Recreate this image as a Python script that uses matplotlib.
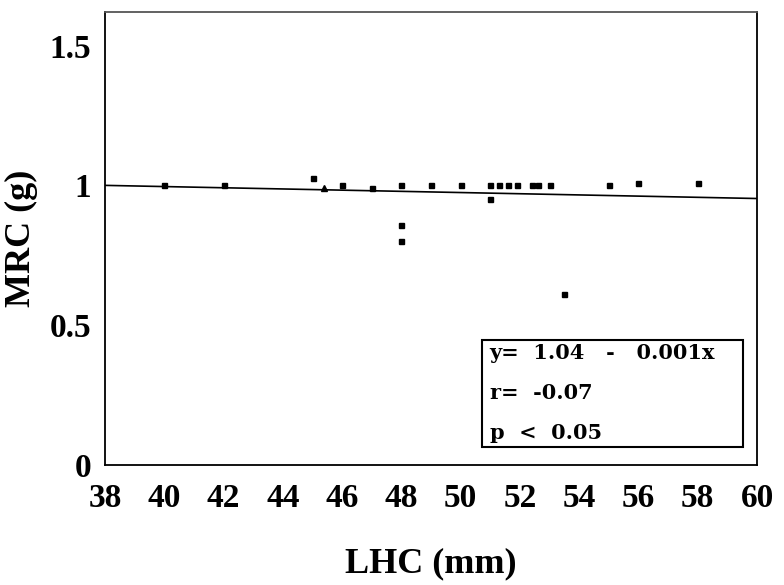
import matplotlib
matplotlib.use("Agg")
import matplotlib.pyplot as plt

# Data
lhc = [40, 42, 45, 46, 47, 48, 48, 48, 49, 50, 51, 51, 51.3, 51.6, 51.9, 52.4, 52.6, 53, 53.5, 55, 56, 58]
mrc = [1.0, 1.0, 1.025, 1.0, 0.99, 1.0, 0.86, 0.80, 1.0, 1.0, 1.0, 0.95, 1.0, 1.0, 1.0, 1.0, 1.0, 1.0, 0.61, 1.0, 1.01, 1.01]
tri_x = [45.4]
tri_y = [0.99]
fit_x = [38, 60]
fit_y = [1.0, 0.953]
xticks = [38, 40, 42, 44, 46, 48, 50, 52, 54, 56, 58, 60]
yticks = [0, 0.5, 1, 1.5]
ytick_labels = ["0", "0.5", "1", "1.5"]
stats_lines = ["y=  1.04   -   0.001x", "r=  -0.07", "p  <  0.05"]

plt.rcParams['font.family'] = ['Liberation Serif', 'DejaVu Serif']

fig = plt.figure(figsize=(7.84, 5.85), dpi=100)
ax = fig.add_axes([0.134, 0.2051, 0.8316, 0.7744])

ax.plot(fit_x, fit_y, color='black', linewidth=1.2)
ax.plot(lhc, mrc, linestyle='none', marker='s', markersize=3.6, color='black')
ax.plot(tri_x, tri_y, linestyle='none', marker='^', markersize=5, color='black')

ax.set_xlim(38, 60)
ax.set_ylim(0, 1.62)
ax.set_xticks(xticks)
ax.set_xticklabels([str(t) for t in xticks], fontsize=24, fontweight='bold')
ax.set_yticks(yticks)
ax.set_yticklabels(ytick_labels, fontsize=24, fontweight='bold')
ax.tick_params(axis='both', length=0)
ax.tick_params(axis='x', pad=13)
ax.tick_params(axis='y', pad=10)

for side in ['left', 'right', 'bottom']:
    ax.spines[side].set_linewidth(1.3)
    ax.spines[side].set_color('black')
ax.spines['top'].set_linewidth(1.3)
ax.spines['top'].set_color('#555555')

ax.set_xlabel("LHC (mm)", fontsize=26, fontweight='bold', labelpad=24)
ax.set_ylabel("MRC (g)", fontsize=26, fontweight='bold', labelpad=8)

# statistics box
box_x0, box_y0, box_w, box_h = 0.578, 0.04, 0.40, 0.237
rect = plt.Rectangle((box_x0, box_y0), box_w, box_h, transform=ax.transAxes,
                     fill=False, edgecolor='black', linewidth=1.5)
ax.add_patch(rect)
ys = [0.247, 0.159, 0.071]
for line, yy in zip(stats_lines, ys):
    ax.text(box_x0 + 0.012, yy, line, transform=ax.transAxes, fontsize=15,
            fontweight='bold', va='center', ha='left', family='DejaVu Serif')

fig.savefig("out.png", dpi=100)
